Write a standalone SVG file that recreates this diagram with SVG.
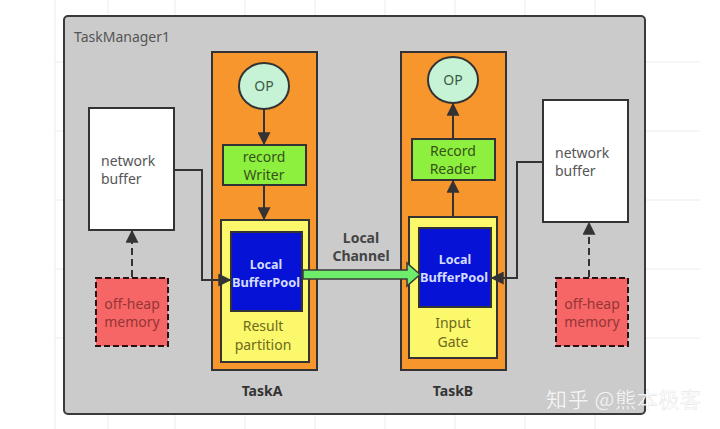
<svg xmlns="http://www.w3.org/2000/svg" width="720" height="429" viewBox="0 0 720 429">
<defs>
<style>
.t{font-family:"Noto Sans","Open Sans","Liberation Sans",sans-serif;font-size:14px;}
.box{stroke:#333;stroke-width:2;}
.task{fill:#f7962c;}
.green{fill:#8df03e;}
.yellow{fill:#fbf86c;}
.blue{fill:#0613d6;}
.op{fill:#c6f3d6;}
.white{fill:#fff;}
.heap{fill:#f76666;stroke:#2a1010;stroke-width:2;stroke-dasharray:6 3;}
.conn{fill:none;stroke:#333;stroke-width:2;}
.grid{stroke:#ececec;stroke-width:1;}
.bp{font-size:12.5px;font-weight:bold;fill:#d4dcff;}
</style>
<marker id="ah" viewBox="0 0 10 10" refX="9" refY="5" markerWidth="6.5" markerHeight="6.5" markerUnits="strokeWidth" orient="auto">
<path d="M0,0 L10,5 L0,10 z" fill="#333"/>
</marker>
</defs>
<rect width="720" height="429" fill="#fff"/>
<g id="grid">
<path class="grid" d="M55 0V429M108 0V16M175 0V16M245 0V16M315 0V16M385 0V16M455 0V16M525 0V16M595 0V16M55 62H64M55 131H64M55 200H64M55 269H64M55 338H64M645 62H700M645 131H700M645 200H700M645 269H700M645 338H700M108 414V429M175 414V429M245 414V429M315 414V429M385 414V429M455 414V429M525 414V429M595 414V429"/>
</g>
<g id="taskmanager1">
<rect x="64" y="16" width="581" height="398" rx="4" fill="#cbcbcb" stroke="#3a3a3a" stroke-width="2"/>
<text class="t" x="74" y="42" fill="#555" font-size="15">TaskManager1</text>
</g>
<g id="taskA">
<rect class="box task" x="212" y="52" width="105" height="318"/>
<text class="t" x="262" y="396" text-anchor="middle" font-weight="bold" fill="#333" font-size="13">TaskA</text>
</g>
<g id="opA">
<ellipse class="box op" cx="264" cy="86" rx="25" ry="23"/>
<text class="t" x="264" y="91" text-anchor="middle" fill="#3c5a46">OP</text>
</g>
<g id="recordWriter">
<rect class="box green" x="223" y="145" width="83" height="40"/>
<text class="t" x="264" y="162" text-anchor="middle" fill="#37521a" font-size="14.5">record</text>
<text class="t" x="264" y="180" text-anchor="middle" fill="#37521a" font-size="14.5">Writer</text>
</g>
<g id="resultPartition">
<rect class="box yellow" x="221" y="220" width="88" height="142"/>
<text class="t" x="263" y="331" text-anchor="middle" fill="#6e6a1c">Result</text>
<text class="t" x="263" y="350" text-anchor="middle" fill="#6e6a1c">partition</text>
</g>
<g id="bufferPoolA">
<rect class="box blue" x="231" y="232" width="71" height="79"/>
<text class="t bp" x="266" y="269" text-anchor="middle">Local</text>
<text class="t bp" x="232" y="287" textLength="68" lengthAdjust="spacingAndGlyphs">BufferPool</text>
</g>
<g id="networkBufferA">
<rect class="box white" x="89" y="108" width="85" height="122"/>
<text class="t" x="101" y="166" fill="#555">network</text>
<text class="t" x="101" y="184" fill="#555">buffer</text>
</g>
<g id="offHeapA">
<rect class="heap" x="96" y="278" width="72" height="68"/>
<text class="t" x="132" y="309" text-anchor="middle" fill="#953535">off-heap</text>
<text class="t" x="132" y="327" text-anchor="middle" fill="#953535">memory</text>
</g>
<g id="taskB">
<rect class="box task" x="401" y="52" width="105" height="318"/>
<text class="t" x="453" y="396" text-anchor="middle" font-weight="bold" fill="#333" font-size="13">TaskB</text>
</g>
<g id="opB">
<ellipse class="box op" cx="453" cy="80" rx="25" ry="23"/>
<text class="t" x="453" y="85" text-anchor="middle" fill="#3c5a46">OP</text>
</g>
<g id="recordReader">
<rect class="box green" x="412" y="139" width="83" height="41"/>
<text class="t" x="453" y="156" text-anchor="middle" fill="#37521a" font-size="14.5">Record</text>
<text class="t" x="453" y="174" text-anchor="middle" fill="#37521a" font-size="14.5">Reader</text>
</g>
<g id="inputGate">
<rect class="box yellow" x="409" y="217" width="88" height="141"/>
<text class="t" x="453" y="328" text-anchor="middle" fill="#6e6a1c">Input</text>
<text class="t" x="453" y="347" text-anchor="middle" fill="#6e6a1c">Gate</text>
</g>
<g id="bufferPoolB">
<rect class="box blue" x="419" y="228" width="72" height="79"/>
<text class="t bp" x="455" y="264" text-anchor="middle">Local</text>
<text class="t bp" x="420" y="282" textLength="68" lengthAdjust="spacingAndGlyphs">BufferPool</text>
</g>
<g id="networkBufferB">
<rect class="box white" x="543" y="100" width="85" height="122"/>
<text class="t" x="555" y="158" fill="#555">network</text>
<text class="t" x="555" y="176" fill="#555">buffer</text>
</g>
<g id="offHeapB">
<rect class="heap" x="556" y="278" width="72" height="68"/>
<text class="t" x="592" y="309" text-anchor="middle" fill="#953535">off-heap</text>
<text class="t" x="592" y="327" text-anchor="middle" fill="#953535">memory</text>
</g>
<g id="connectors">
<line class="conn" x1="264" y1="109" x2="264" y2="144" marker-end="url(#ah)"/>
<line class="conn" x1="264" y1="186" x2="264" y2="219" marker-end="url(#ah)"/>
<line class="conn" x1="453" y1="216" x2="453" y2="181" marker-end="url(#ah)"/>
<line class="conn" x1="453" y1="138" x2="453" y2="104" marker-end="url(#ah)"/>
<polyline class="conn" points="174,170 202,170 202,280 230,280" marker-end="url(#ah)"/>
<polyline class="conn" points="543,162 517,162 517,278 492,278" marker-end="url(#ah)"/>
<line class="conn" x1="132" y1="277" x2="132" y2="231" stroke-dasharray="7 4" marker-end="url(#ah)"/>
<line class="conn" x1="589" y1="277" x2="589" y2="223" stroke-dasharray="7 4" marker-end="url(#ah)"/>
<path d="M303,270 L407,270 L407,263 L420,274.5 L407,286 L407,279 L303,279 Z" fill="#6ded6a" stroke="#3a3a3a" stroke-width="1.5"/>
<text class="t" x="361" y="243" text-anchor="middle" font-weight="bold" fill="#444" font-size="13">Local</text>
<text class="t" x="361" y="261" text-anchor="middle" font-weight="bold" fill="#444" font-size="13">Channel</text>
</g>
<g id="watermark">
<text x="546" y="407" font-family="'Noto Sans CJK SC',sans-serif" font-size="21" fill="#fff" fill-opacity="0.92" stroke="#999" stroke-opacity="0.25" stroke-width="0.6" textLength="155" lengthAdjust="spacing">知乎 @熊本极客</text>
</g>
</svg>
